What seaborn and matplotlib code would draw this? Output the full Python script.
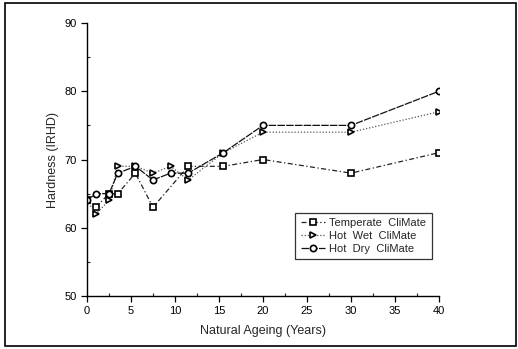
import numpy as np
import pandas as pd
import matplotlib
matplotlib.use("Agg")
import matplotlib.pyplot as plt
import seaborn as sns
from matplotlib.patches import Rectangle
from matplotlib.ticker import MultipleLocator

sns.set_style("ticks")
plt.rcParams['font.family'] = ['Liberation Sans', 'DejaVu Sans']

series_names = ["Temperate  CliMate", "Hot  Wet  CliMate", "Hot  Dry  CliMate"]
temp_years = [0, 1, 2.5, 3.5, 5.5, 7.5, 11.5, 15.5, 20, 30, 40]
temp_vals = [64, 63, 65, 65, 68, 63, 69, 69, 70, 68, 71]
wet_years = [0, 1, 2.5, 3.5, 5.5, 7.5, 9.5, 11.5, 15.5, 20, 30, 40]
wet_vals = [64, 62, 64, 69, 69, 68, 69, 67, 71, 74, 74, 77]
dry_years = [0, 1, 2.5, 3.5, 5.5, 7.5, 9.5, 11.5, 15.5, 20, 30, 40]
dry_vals = [64, 65, 65, 68, 69, 67, 68, 68, 71, 75, 75, 80]

df = pd.concat([
    pd.DataFrame({"Years": temp_years, "Hardness": temp_vals, "Climate": series_names[0]}),
    pd.DataFrame({"Years": wet_years, "Hardness": wet_vals, "Climate": series_names[1]}),
    pd.DataFrame({"Years": dry_years, "Hardness": dry_vals, "Climate": series_names[2]}),
], ignore_index=True)

fig = plt.figure(figsize=(5.18, 3.49), dpi=100)
ax = fig.add_axes([87/518, 53/349, 352/518, 273/349])

sns.lineplot(data=df, x="Years", y="Hardness", hue="Climate", style="Climate",
             hue_order=series_names, style_order=series_names,
             palette=["#222222", "#555555", "#111111"],
             markers={series_names[0]: "s", series_names[1]: ">", series_names[2]: "o"},
             dashes={series_names[0]: (4, 2, 1, 2), series_names[1]: (1, 1.5), series_names[2]: (6, 1)},
             linewidth=0.9, markersize=4.5, errorbar=None, legend=False, ax=ax)

for ln in ax.lines:
    ln.set_markerfacecolor("white")
    ln.set_markeredgecolor("black")
    ln.set_markeredgewidth(1.2)

ax.set_xlim(0, 40)
ax.set_ylim(50, 90)
ax.xaxis.set_major_locator(MultipleLocator(5))
ax.xaxis.set_minor_locator(MultipleLocator(2.5))
ax.yaxis.set_major_locator(MultipleLocator(10))
ax.yaxis.set_minor_locator(MultipleLocator(5))
ax.tick_params(which="major", direction="out", length=4, width=0.9, labelsize=8, colors="black")
ax.tick_params(which="minor", direction="in", length=2.5, width=0.8)
for s in ["top", "right"]:
    ax.spines[s].set_visible(False)
for s in ["left", "bottom"]:
    ax.spines[s].set_color("black")
    ax.spines[s].set_linewidth(1.0)

ax.set_xlabel("Natural Ageing (Years)", fontsize=9, labelpad=6)
ax.set_ylabel("Hardness (IRHD)", fontsize=9, labelpad=4)

leg = ax.legend(ax.lines[:3], series_names, loc="upper left", bbox_to_anchor=(0.575, 0.325),
                fontsize=8, frameon=True, fancybox=False, handlelength=2.2,
                borderpad=0.5, labelspacing=0.25, handletextpad=0.4)
leg.get_frame().set_edgecolor("black")
leg.get_frame().set_linewidth(0.9)

fig.patches.append(Rectangle((5/518, 3/349), 511/518, 343/349, transform=fig.transFigure,
                             fill=False, edgecolor="black", linewidth=1.2))

fig.savefig("out.png", dpi=100)
